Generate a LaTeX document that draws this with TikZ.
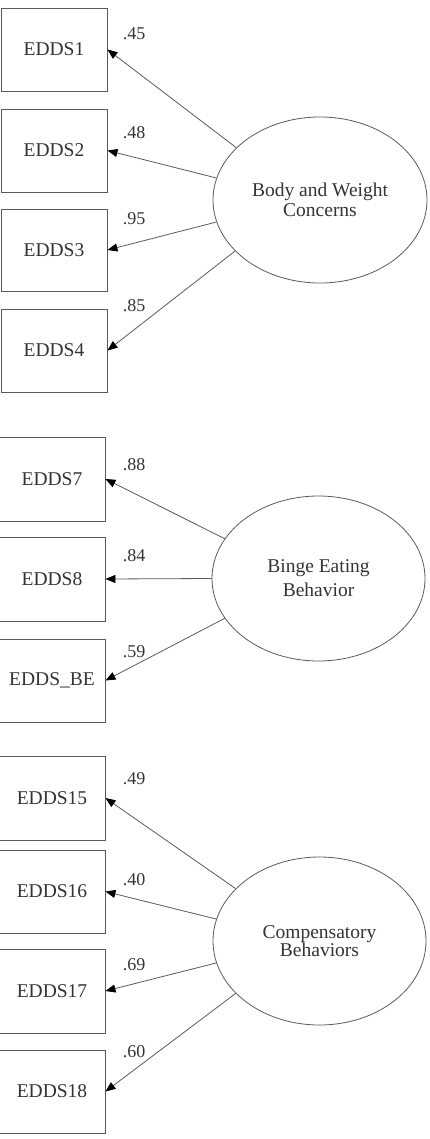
\documentclass[tikz,border=0pt]{standalone}
\usepackage{fontspec}
\setmainfont{Liberation Serif}
\usepackage{tikz}
\usetikzlibrary{shapes.geometric,arrows.meta}
\definecolor{LineGray}{HTML}{5A5A5A}
\definecolor{InkGray}{HTML}{333333}

\begin{document}
\begin{tikzpicture}[x=1pt, y=-1pt, font=\fontsize{19.5}{20}\selectfont,
    obsbox/.style={rectangle, draw=LineGray, line width=0.9pt, text=InkGray,
      minimum width=106pt, minimum height=83pt, inner sep=0pt},
    latent/.style={ellipse, draw=LineGray, line width=0.8pt, text=InkGray,
      align=center, inner sep=0pt},
    load/.style={draw=LineGray, line width=0.8pt, -{Triangle[length=10pt, width=8pt, black]}},
    coef/.style={text=InkGray, font=\fontsize{18}{18}\selectfont}]
    \useasboundingbox (0,0) rectangle (430,1139);
    % observed indicators
    \foreach \name/\txt/\x/\y/\h in {E1/EDDS1/54/49.5/83, E2/EDDS2/54/150.5/83,
      E3/EDDS3/54/250/82, E4/EDDS4/54/350.5/83,
      E7/EDDS7/52/479/84, E8/EDDS8/52/579/84, EBE/EDDS\_BE/52/680.5/83,
      E15/EDDS15/52/798/84, E16/EDDS16/52/891.5/83, E17/EDDS17/52/991/84,
      E18/EDDS18/52/1091.5/83} {
      \node[obsbox, minimum height=\h pt] (\name) at (\x,\y) {\txt};
    }
    % latent factors
    \node[latent, minimum width=214pt, minimum height=166pt] (BWC) at (320,200)
      {Body and Weight\\Concerns};
    \node[latent, minimum width=213pt, minimum height=165pt,
      font=\fontsize{19.5}{24}\selectfont] (BEB) at (318.5,578.5)
      {Binge Eating\\Behavior};
    \node[latent, minimum width=213pt, minimum height=168pt,
      font=\fontsize{19.5}{14}\selectfont] (CB) at (319.5,941)
      {Compensatory\\Behaviors};
    % loadings
    \foreach \lat/\ind/\ang/\val/\ly in {BWC/E1/148.5/.45/34, BWC/E2/168/.48/133,
      BWC/E3/192/.95/219, BWC/E4/211.5/.85/306,
      BEB/E7/157.5/.88/465, BEB/E8/180/.84/556, BEB/EBE/203.5/.59/652,
      CB/E15/148.5/.49/779, CB/E16/168.6/.40/880, CB/E17/192.4/.69/965,
      CB/E18/212/.60/1052} {
      \draw[load] (\lat.\ang) -- (\ind.east);
      \node[coef] (c\ind) at (134,\ly) {\val};
    }
  \end{tikzpicture}
\end{document}
